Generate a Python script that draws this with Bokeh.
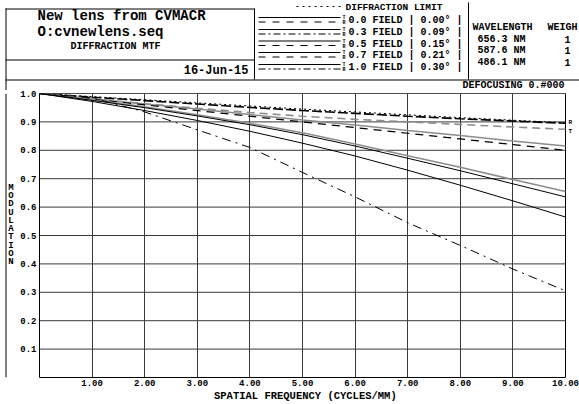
from bokeh.plotting import figure
from bokeh.layouts import column, row
from bokeh.models import Range1d, FixedTicker
from bokeh.core.properties import value
from bokeh.embed import file_html
from bokeh.resources import INLINE

# ---------------- data ----------------
freq = [0, 1, 2, 3, 4, 5, 6, 7, 8, 9, 10]
diff_limit = [1.0, 0.989, 0.978, 0.967, 0.956, 0.945, 0.935, 0.925, 0.915, 0.906, 0.897]
mtf_a = [1.0, 0.987, 0.975, 0.963, 0.951, 0.940, 0.930, 0.920, 0.911, 0.903, 0.895]
mtf_b = [1.0, 0.982, 0.964, 0.948, 0.933, 0.920, 0.909, 0.900, 0.891, 0.882, 0.874]
mtf_c = [1.0, 0.981, 0.963, 0.945, 0.926, 0.907, 0.889, 0.870, 0.852, 0.833, 0.815]
mtf_d = [1.0, 0.980, 0.960, 0.940, 0.920, 0.900, 0.880, 0.860, 0.840, 0.820, 0.800]
mtf_e = [1.0, 0.978, 0.953, 0.925, 0.895, 0.862, 0.822, 0.781, 0.740, 0.697, 0.655]
mtf_f = [1.0, 0.976, 0.950, 0.921, 0.890, 0.855, 0.815, 0.772, 0.728, 0.682, 0.636]
mtf_g = [1.0, 0.972, 0.940, 0.905, 0.867, 0.825, 0.780, 0.730, 0.677, 0.622, 0.565]
mtf_h = [1.0, 0.985, 0.935, 0.872, 0.810, 0.722, 0.636, 0.545, 0.465, 0.382, 0.305]

x_ticks = [1, 2, 3, 4, 5, 6, 7, 8, 9, 10]
x_tick_labels = ["1.00", "2.00", "3.00", "4.00", "5.00", "6.00", "7.00", "8.00", "9.00", "10.00"]
y_ticks = [0.1, 0.2, 0.3, 0.4, 0.5, 0.6, 0.7, 0.8, 0.9, 1.0]
y_tick_labels = ["0.1", "0.2", "0.3", "0.4", "0.5", "0.6", "0.7", "0.8", "0.9", "1.0"]

end_labels = ["R", "T"]
end_label_values = [0.897, 0.866]

fields = [0.0, 0.3, 0.5, 0.7, 1.0]
field_angles = [0.00, 0.09, 0.15, 0.21, 0.30]
wavelengths = [656.3, 587.6, 486.1]
weights = [1, 1, 1]

title_lines = ["New lens from CVMACR", "O:cvnewlens.seq"]
subtitle = "DIFFRACTION MTF"
date_text = "16-Jun-15"
defocus_text = "DEFOCUSING  0.#000"
x_label = "SPATIAL FREQUENCY  (CYCLES/MM)"
y_label = "MODULATION"

FONT = value("Liberation Mono")
GRAY = "#8c8c8c"
GRID = "#3a3a3a"

# ---------------- header ----------------
W = 579
HH = 90
hdr = figure(width=W, height=HH, x_range=Range1d(0, W), y_range=Range1d(HH, 0),
             output_backend="svg", toolbar_location=None,
             x_axis_type=None, y_axis_type=None,
             min_border=0, min_border_left=0, min_border_right=0,
             min_border_top=0, min_border_bottom=0)
hdr.grid.visible = False
hdr.outline_line_color = None

hdr.segment(x0=[5, 5.5, 254, 5, 5, 468],
            y0=[8.5, 8, 8, 59.5, 79.5, 2],
            x1=[254, 5.5, 254, 254, W, 468],
            y1=[8.5, HH, 79, 59.5, 79.5, 79],
            line_color="black", line_width=1)

hdr.text(x=[37], y=[15], text=[title_lines[0]], text_font=FONT, text_font_style="bold",
         text_font_size="14px", text_baseline="middle", text_align="left", text_color="black")
hdr.text(x=[37], y=[31.5], text=[title_lines[1]], text_font=FONT, text_font_style="bold",
         text_font_size="14px", text_baseline="middle", text_align="left", text_color="black")
hdr.text(x=[70], y=[46], text=[subtitle], text_font=FONT, text_font_style="bold",
         text_font_size="10px", text_baseline="middle", text_align="left", text_color="black")
hdr.text(x=[248], y=[70], text=[date_text], text_font=FONT, text_font_style="bold",
         text_font_size="12px", text_baseline="middle", text_align="right", text_color="black")

# legend
hdr.line(x=[296, 340], y=[6, 6], line_color="black", line_dash="2 4", line_width=1)
hdr.text(x=[345], y=[7], text=["DIFFRACTION LIMIT"], text_font=FONT, text_font_style="bold",
         text_font_size="9.5px", text_baseline="middle", text_align="left")
row_y = [20, 32, 43.5, 55, 67]
row_dash = ["7 7", "7 3 2 3", "7 7", "7 7", "7 3 2 3"]
for yc, fld, ang, dsh in zip(row_y, fields, field_angles, row_dash):
    hdr.line(x=[258, 340], y=[yc - 3, yc - 3], line_color="black", line_width=1)
    hdr.line(x=[258, 340], y=[yc + 1.5, yc + 1.5], line_color="black", line_width=1, line_dash=dsh)
    hdr.text(x=[343.5, 343.5], y=[yc - 2.5, yc + 2.5], text=["T", "R"], text_font=FONT,
             text_font_style="bold", text_font_size="5px", text_baseline="middle", text_align="center")
    hdr.text(x=[348], y=[yc], text=[f"{fld:.1f} FIELD | {ang:.2f}\u00b0 |"], text_font=FONT,
             text_font_style="bold", text_font_size="10px", text_baseline="middle", text_align="left")

# wavelengths
hdr.text(x=[472], y=[27], text=["WAVELENGTH"], text_font=FONT, text_font_style="bold",
         text_font_size="10px", text_baseline="middle", text_align="left")
hdr.text(x=[547], y=[27], text=["WEIGH"], text_font=FONT, text_font_style="bold",
         text_font_size="10px", text_baseline="middle", text_align="left")
for i, (wl, wt) in enumerate(zip(wavelengths, weights)):
    yy = 38.5 + i * 11.5
    hdr.text(x=[477], y=[yy], text=[f"{wl:.1f} NM"], text_font=FONT, text_font_style="bold",
             text_font_size="10px", text_baseline="middle", text_align="left")
    hdr.text(x=[567], y=[yy], text=[f"{wt}"], text_font=FONT, text_font_style="bold",
             text_font_size="10px", text_baseline="middle", text_align="center")

hdr.text(x=[570], y=[84.5], text=[defocus_text], text_font=FONT, text_font_style="bold",
         text_font_size="10px", text_baseline="middle", text_align="right")

# ---------------- left strip ----------------
MH = 404 - HH
LW = 17
left = figure(width=LW, height=MH, x_range=Range1d(0, LW), y_range=Range1d(MH, 0),
              output_backend="svg", toolbar_location=None,
              x_axis_type=None, y_axis_type=None,
              min_border=0, min_border_left=0, min_border_right=0,
              min_border_top=0, min_border_bottom=0)
left.grid.visible = False
left.outline_line_color = None
left.line(x=[5.5, 5.5], y=[0, MH], line_color="black", line_width=1)
letters = list(y_label)
left.text(x=[10.5] * len(letters), y=[104.5 + 9.1 * i for i in range(len(letters))], text=letters,
          text_font=FONT, text_font_style="bold", text_font_size="9px",
          text_baseline="middle", text_align="center")

# ---------------- main plot ----------------
PW = W - LW
BL, BR = 22, 2
frame_w = PW - BL - BR
plot_px = 526.0                      # pixel width of the 0..10 data span
x_max = freq[-1] * frame_w / plot_px  # a little room right of x=10 for the R/T tags

p = figure(width=PW, height=MH, x_range=Range1d(0, x_max), y_range=Range1d(0, 1),
           output_backend="svg", toolbar_location=None,
           min_border_left=BL, min_border_right=BR, min_border_top=3, min_border_bottom=27)
p.outline_line_color = None

p.xaxis.ticker = FixedTicker(ticks=x_ticks)
p.yaxis.ticker = FixedTicker(ticks=y_ticks)
p.xaxis.major_label_overrides = {t: lab for t, lab in zip(x_ticks, x_tick_labels)}
p.yaxis.major_label_overrides = {t: lab for t, lab in zip(y_ticks, y_tick_labels)}
p.xaxis.bounds = (0, freq[-1])
for ax in (p.xaxis[0], p.yaxis[0]):
    ax.major_tick_in = 0
    ax.major_tick_out = 0
    ax.minor_tick_in = 0
    ax.minor_tick_out = 0
    ax.axis_line_color = "black"
    ax.major_label_text_font = "Liberation Mono"
    ax.major_label_text_font_style = "bold"
    ax.major_label_text_font_size = "9px"
    ax.major_label_text_color = "black"
p.xaxis.major_label_standoff = 2
p.yaxis.major_label_standoff = 3
p.xaxis.axis_label = x_label
p.xaxis.axis_label_text_font = "Liberation Mono"
p.xaxis.axis_label_text_font_style = "bold"
p.xaxis.axis_label_text_font_size = "10.5px"
p.xaxis.axis_label_standoff = 1
p.xaxis.axis_label_text_color = "black"

# vertical grid from bokeh; horizontal grid drawn only over 0..10
p.xgrid.grid_line_color = GRID
p.xgrid.grid_line_width = 1
p.ygrid.visible = False
p.segment(x0=[0] * len(y_ticks), x1=[freq[-1]] * len(y_ticks), y0=y_ticks, y1=y_ticks,
          line_color=GRID, line_width=1)
p.segment(x0=[freq[-1]], x1=[freq[-1]], y0=[0], y1=[1], line_color="black", line_width=1)
p.segment(x0=[0], x1=[freq[-1]], y0=[1], y1=[1], line_color="black", line_width=1)

p.line(freq, diff_limit, line_color="black", line_width=1, line_dash="2 3")
p.line(freq, mtf_a, line_color="black", line_width=1.6, line_dash="10 3")
p.line(freq, mtf_b, line_color=GRAY, line_width=1.6, line_dash="8 5")
p.line(freq, mtf_c, line_color=GRAY, line_width=1.5)
p.line(freq, mtf_d, line_color="black", line_width=1.2, line_dash="8 6")
p.line(freq, mtf_e, line_color=GRAY, line_width=1.5)
p.line(freq, mtf_f, line_color="black", line_width=1)
p.line(freq, mtf_g, line_color="black", line_width=1)
p.line(freq, mtf_h, line_color="black", line_width=1, line_dash="9 5 2 5")

p.text(x=[freq[-1]] * len(end_labels), y=end_label_values, text=end_labels, x_offset=3,
       text_font=FONT, text_font_style="bold", text_font_size="6px",
       text_baseline="middle", text_align="left", text_color="black")

layout = column(hdr, row(left, p))
open("out.html", "w").write(file_html(layout, INLINE))
